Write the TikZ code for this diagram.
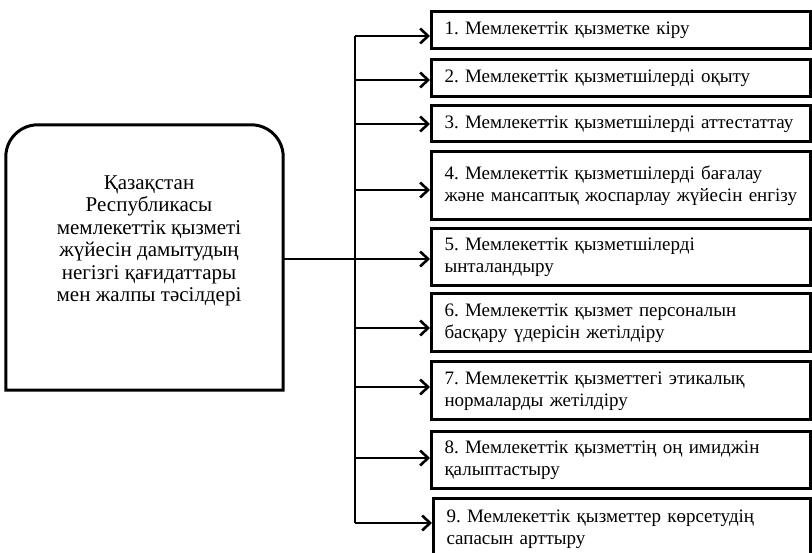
\documentclass[tikz,border=0pt]{standalone}
\usepackage{fontspec}
\setmainfont{Liberation Serif}
\usetikzlibrary{arrows.meta}
\begin{document}
\frenchspacing
\begin{tikzpicture}[x=1pt,y=-1pt,
  rbox/.style={draw, line width=3pt, rectangle, inner xsep=13pt, inner ysep=0pt,
    text width=353pt, align=left, anchor=west,
    font=\frenchspacing\fontsize{19}{22}\selectfont},
  arr/.style={line width=2.6pt, -{Straight Barb[length=8pt,width=15pt]}},
  conn/.style={line width=2.6pt}]
\useasboundingbox (0,0) rectangle (812,553);
% left box
\node[inner sep=0pt, minimum width=277pt, minimum height=265pt] (L) at (144.5,257.5) {};
\node[align=center, font=\fontsize{21}{22.5}\selectfont] (Lt) at (149,241)
  {Қазақстан\\Республикасы\\мемлекеттік қызметі\\жүйесін дамытудың\\негізгі қағидаттары\\мен жалпы тәсілдері};
\draw[line width=3pt] (L.south west) [rounded corners=32pt] -- (L.north west) -- (L.north east) [sharp corners] -- (L.south east) -- cycle;
% right boxes
\node[rbox, minimum height=37pt] (b1) at (430,30.5) {1. Мемлекеттік қызметке кіру};
\node[rbox, minimum height=37pt] (b2) at (430,78.5) {2. Мемлекеттік қызметшілерді оқыту};
\node[rbox, minimum height=36pt] (b3) at (430,124) {3. Мемлекеттік қызметшілерді аттестаттау};
\node[rbox, minimum height=68pt] (b4) at (430,186) {4. Мемлекеттік қызметшілерді бағалау\\және мансаптық жоспарлау жүйесін енгізу};
\node[rbox, minimum height=57pt] (b5) at (430,257.5) {5. Мемлекеттік қызметшілерді\\ынталандыру};
\node[rbox, minimum height=58pt] (b6) at (430,323) {6. Мемлекеттік қызмет персоналын\\басқару үдерісін жетілдіру};
\node[rbox, minimum height=58pt] (b7) at (430,391) {7. Мемлекеттік қызметтегі этикалық\\нормаларды жетілдіру};
\node[rbox, minimum height=56pt] (b8) at (430,460) {8. Мемлекеттік қызметтің оң имиджін\\қалыптастыру};
\node[rbox, minimum height=62pt, text width=351pt] (b9) at (432,529) {9. Мемлекеттік қызметтер көрсетудің\\сапасын арттыру};
% trunk
\coordinate (t0) at (355,259);
\coordinate (t1) at (355,36);
\coordinate (t2) at (355,80);
\coordinate (t3) at (355,124);
\coordinate (t4) at (355,190);
\coordinate (t5) at (355,259);
\coordinate (t6) at (355,328);
\coordinate (t7) at (355,387);
\coordinate (t8) at (355,458);
\coordinate (t9) at (355,523);
\draw[conn] (L.east |- t0) -- (t0);
\draw[conn] (t1) -- (t9);
\foreach \i in {1,...,9} {\draw[arr] (t\i) -- (b\i.west |- t\i);}
\end{tikzpicture}
\end{document}
